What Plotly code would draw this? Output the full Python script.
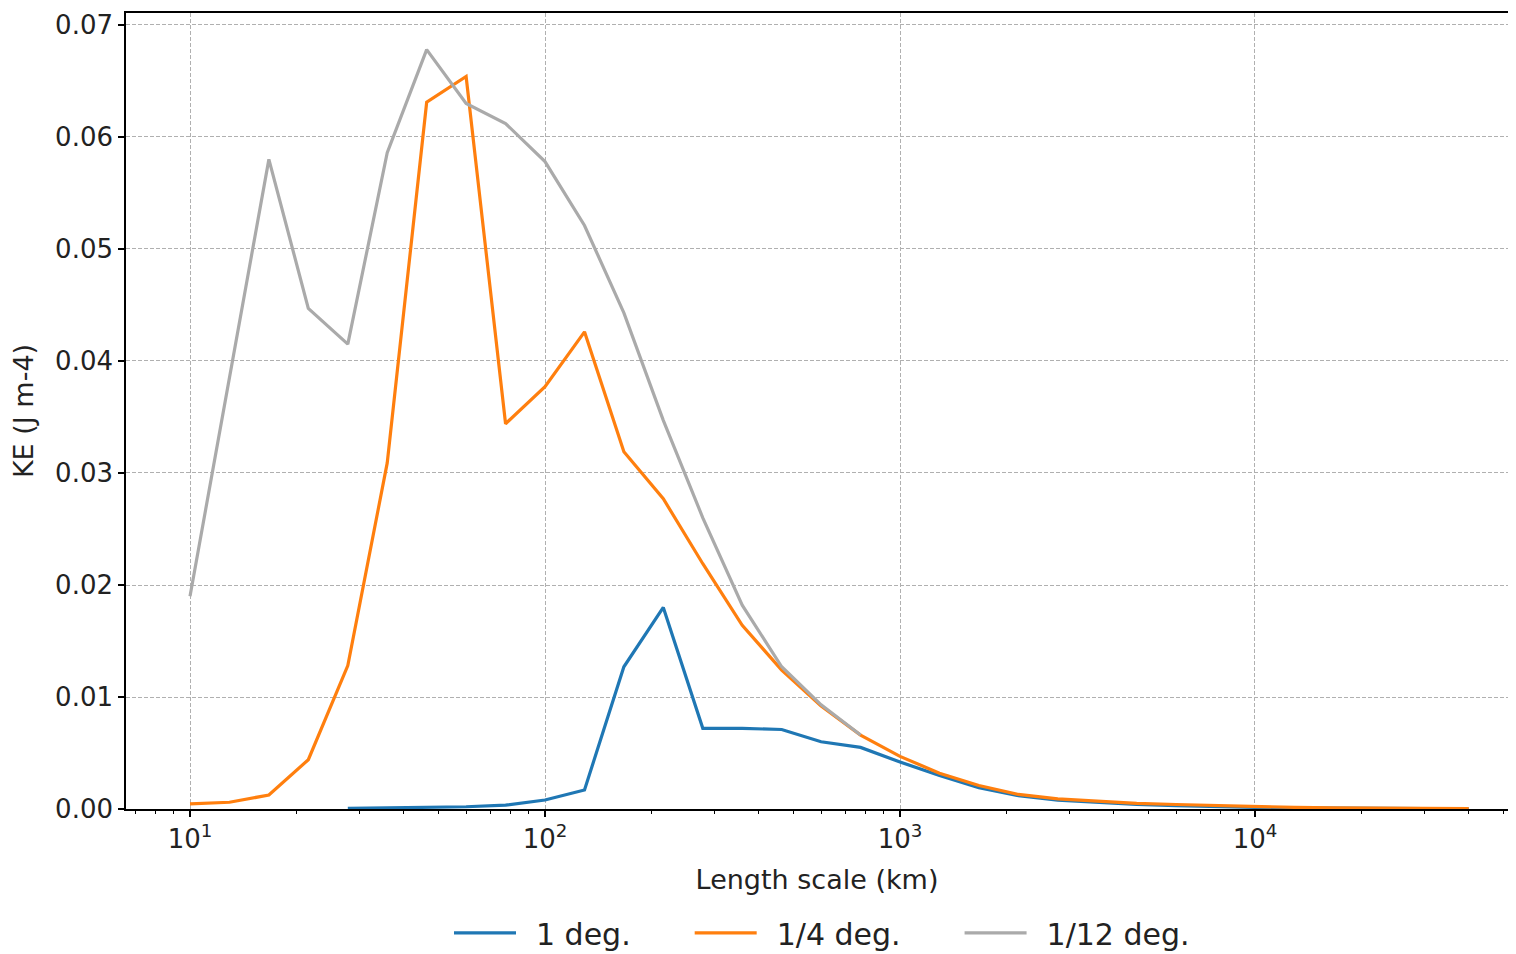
import plotly.graph_objects as go

# Length scale (km) sample points
x_km = [10.0, 12.92, 16.68, 21.54, 27.83, 35.94, 46.42, 59.95, 77.43, 100.0,
        129.2, 166.8, 215.4, 278.3, 359.4, 464.2, 599.5, 774.3, 1000.0, 1292.0,
        1668.0, 2154.0, 2783.0, 3594.0, 4642.0, 5995.0, 7743.0, 10000.0, 12915.0,
        16681.0, 21544.0, 27826.0, 40000.0]

# KE (J m-4) for each resolution
ke_1deg = [0.00005, 0.0001, 0.00015, 0.0002, 0.00035, 0.0008, 0.0017, 0.0127, 0.0180,
           0.0072, 0.0072, 0.0071, 0.0060, 0.0055, 0.0042, 0.0030, 0.0019, 0.0012,
           0.0008, 0.0006, 0.0004, 0.0003, 0.0002, 0.00015, 0.0001, 0.00007, 0.00005,
           0.00003, 0.00002]
ke_quarter = [0.00045, 0.0006, 0.00125, 0.0044, 0.0128, 0.0309, 0.0631, 0.0654, 0.0344,
              0.0377, 0.0426, 0.0319, 0.0277, 0.0219, 0.0164, 0.0124, 0.0092, 0.0066,
              0.0047, 0.0032, 0.0021, 0.0013, 0.0009, 0.0007, 0.0005, 0.0004, 0.0003,
              0.0002, 0.00015, 0.0001, 0.00007, 0.00005, 0.00003]
ke_twelfth = [0.0190, 0.0385, 0.0580, 0.0447, 0.0415, 0.0586, 0.0678, 0.0630, 0.0612,
              0.0578, 0.0521, 0.0443, 0.0347, 0.0260, 0.0182, 0.0127, 0.0093, 0.0066]

series_names = ["1 deg.", "1/4 deg.", "1/12 deg."]
series_colors = ["#1f77b4", "#ff7f0e", "#aaaaaa"]

x_tick_vals = [10, 100, 1000, 10000]
x_tick_text = ["10<sup>1</sup>", "10<sup>2</sup>", "10<sup>3</sup>", "10<sup>4</sup>"]
y_tick_vals = [0.0, 0.01, 0.02, 0.03, 0.04, 0.05, 0.06, 0.07]

minor_vals = [m * 10 ** e for e in range(0, 5) for m in range(2, 10)]

FONT = "DejaVu Sans"
LEAD = "\u2002"
TRAIL = "\u2003\u2002\u2009\u200a"

fig = go.Figure()
fig.add_trace(go.Scatter(x=x_km[4:], y=ke_1deg, mode="lines",
                         name=LEAD + series_names[0] + TRAIL,
                         line=dict(color=series_colors[0], width=3.2)))
fig.add_trace(go.Scatter(x=x_km, y=ke_quarter, mode="lines",
                         name=LEAD + series_names[1] + TRAIL,
                         line=dict(color=series_colors[1], width=3.2)))
fig.add_trace(go.Scatter(x=x_km[:len(ke_twelfth)], y=ke_twelfth, mode="lines",
                         name=LEAD + series_names[2],
                         line=dict(color=series_colors[2], width=3.2)))

fig.update_layout(
    width=1500, height=954,
    margin=dict(l=118, r=0, t=5, b=153, autoexpand=False),
    paper_bgcolor="white", plot_bgcolor="white",
    font=dict(family=FONT, color="#222222", size=26),
    showlegend=True,
    legend=dict(orientation="h", x=(449 - 126) / 1382, xanchor="left",
                y=-0.123, yanchor="top",
                font=dict(family=FONT, size=30, color="#222222"),
                itemwidth=62,
                bgcolor="rgba(0,0,0,0)"),
)

fig.update_xaxes(
    type="log",
    range=[0.8197, 4.7127],
    tickvals=x_tick_vals, ticktext=x_tick_text,
    ticks="outside", ticklen=6, tickwidth=1.5, tickcolor="black",
    tickfont=dict(family=FONT, size=26, color="#222222"),
    showline=True, linecolor="black", linewidth=1.6, mirror=True,
    showgrid=True, gridcolor="#b0b0b0", gridwidth=1, griddash="4px,2px",
    zeroline=False,
    minor=dict(tickvals=minor_vals, ticks="outside", ticklen=3.5, tickwidth=1.2,
               tickcolor="black", showgrid=False),
    title=dict(text="Length scale (km)", font=dict(family=FONT, size=27, color="#222222"),
               standoff=17),
)

fig.update_yaxes(
    range=[0, 0.07107],
    tickvals=y_tick_vals, tickformat=".2f",
    ticks="outside", ticklen=6, tickwidth=1.5, tickcolor="black",
    tickfont=dict(family=FONT, size=26, color="#222222"),
    showline=True, linecolor="black", linewidth=1.6, mirror=False,
    showgrid=True, gridcolor="#b0b0b0", gridwidth=1, griddash="4px,2px",
    zeroline=False,
    title=dict(text="KE (J m-4)", font=dict(family=FONT, size=27, color="#222222"),
               standoff=14),
)

fig.write_html("out.html")
